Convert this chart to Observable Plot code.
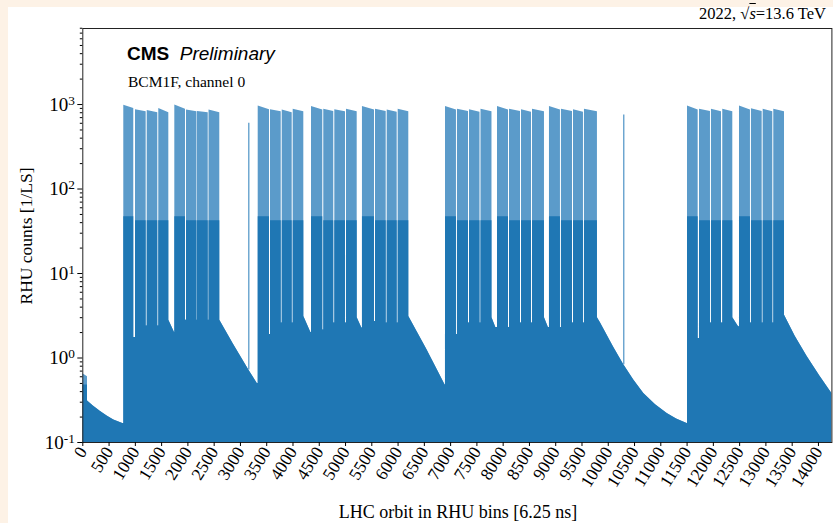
<!DOCTYPE html>
<html><head><meta charset="utf-8">
<script src="https://cdn.jsdelivr.net/npm/d3@7"></script>
<script src="https://cdn.jsdelivr.net/npm/@observablehq/plot@0.6"></script>
<style>
body{margin:0;background:#fdf2e6;}
#wrap{position:relative;width:833px;height:523px;overflow:hidden;background:#fdf2e6;}
#panel{position:absolute;left:8px;top:7px;right:0;bottom:0;background:#fff;}
#chart{position:absolute;left:0;top:0;}
.t{position:absolute;white-space:nowrap;color:#000;line-height:1;}
.serif{font-family:"Liberation Serif","DejaVu Serif",serif;}
.sans{font-family:"Liberation Sans",Arial,sans-serif;}
</style></head><body>
<div id="wrap">
<div id="panel"></div>
<div id="chart"></div>
<div class="t serif" style="right:7px;top:6px;font-size:16.5px;">2022, √<span style="text-decoration:overline;font-style:italic;">s</span>=13.6 TeV</div>
<div class="t sans" style="left:127px;top:44px;font-size:19px;"><b>CMS</b>&nbsp; <i>Preliminary</i></div>
<div class="t serif" style="left:128px;top:74px;font-size:15.5px;">BCM1F, channel 0</div>
<div class="t serif" style="left:27px;top:236px;font-size:17.5px;transform:translate(-50%,-50%) rotate(-90deg);">RHU counts [1/LS]</div>
<div class="t serif" style="left:458px;top:503px;font-size:18px;transform:translateX(-50%);">LHC orbit in RHU bins [6.25 ns]</div>
</div>
<script>
// ---- tick values / labels ----
const xTicks = [0,500,1000,1500,2000,2500,3000,3500,4000,4500,5000,5500,6000,6500,7000,7500,8000,8500,9000,9500,10000,10500,11000,11500,12000,12500,13000,13500,14000];
const yMajor = [0.1, 1, 10, 100, 1000];
const yMajorLabels = ["10^-1", "10^0", "10^1", "10^2", "10^3"];
const yMinor = [0.2,0.3,0.4,0.5,0.6,0.7,0.8,0.9,2,3,4,5,6,7,8,9,20,30,40,50,60,70,80,90,200,300,400,500,600,700,800,900,2000,3000,4000,5000,6000,7000,8000];

// ---- bunch trains (RHU bins) ----
const trainStart = [0, 780,1003,1226,1446, 1751,1973,2183,2402, 3338,3572,3795,4004, 4352,4586,4796,5018, 5322,5570,5793,6002, 6902,7130,7359,7578, 7892,8120,8349,8558, 8881,9109,9338,9547, 11508,11736,11964,12179, 12497,12725,12948,13150];
const trainEnd   = [90, 970,1206,1427,1637, 1954,2173,2387,2607, 3553,3776,3985,4206, 4567,4776,4999,5222, 5551,5774,5983,6204, 7111,7340,7559,7787, 8101,8330,8539,8786, 9090,9319,9528,9794, 11711,11945,12155,12370, 12706,12929,13131,13354];
const trainPeak  = [0.65, 980,870,850,900, 990,860,830,860, 960,870,860,880, 950,880,870,880, 950,880,860,880, 950,880,870,880, 950,880,870,880, 950,880,870,880, 960,880,880,880, 960,890,880,880];
const trainPeakEnd=[0.6, 900,820,800,800, 880,820,800,800, 870,820,800,820, 860,830,820,820, 860,830,810,820, 860,830,810,820, 860,830,810,820, 860,830,810,820, 860,830,820,820, 860,830,820,820];
const trainBase  = [0.48, 47,42,42,42, 47,42,42,42, 47,42,42,42, 47,42,42,42, 47,42,42,42, 47,42,42,42, 47,42,42,42, 47,42,42,42, 47,42,42,42, 47,42,42,42];
const trainTail  = [0.31, 1.75,2.4,2.4,2.8, 2.8,2.8,2.8,2.8, 1.9,2.6,2.6,3.1, 2.15,2.6,2.6,3.0, 2.7,2.6,2.6,3.1, 1.9,2.6,2.6,3.0, 2.3,2.6,2.6,3.0, 2.3,2.6,2.6,3.0, 1.7,2.6,2.6,3.0, 2.6,2.6,2.6,3.2];

// ---- afterglow between groups (bin, counts) ----
const glowBin   = [200, 337, 470, 590, 760, 1745, 2870, 3159, 3320, 4340, 5310, 6550, 6895, 7860, 8860, 9853, 10100, 10295, 10485, 10676, 10900, 11121, 11300, 11500, 12480, 13560, 13785, 14020, 14256];
const glowValue = [0.27, 0.232, 0.205, 0.185, 0.168, 2.0, 1.45, 0.72, 0.5, 2.0, 2.26, 1.25, 0.48, 2.3, 2.3, 2.6, 1.35, 0.83, 0.55, 0.38, 0.28, 0.22, 0.19, 0.168, 2.35, 1.8, 1.04, 0.62, 0.38];

// ---- isolated single bunches ----
const loneBin = [3159, 10295];
const loneTop = [600, 750];
const loneLow = [0.72, 0.83];

// build the envelope table from the arrays above
const env = [];
let level = null, gi = 0;
for (let i = 0; i < trainStart.length; i++) {
  const s = trainStart[i], e = trainEnd[i];
  while (gi < glowBin.length && glowBin[gi] < s) {
    env.push({x: glowBin[gi], base: glowValue[gi], peak: glowValue[gi]});
    level = glowValue[gi]; gi++;
  }
  if (level !== null) env.push({x: s, base: level, peak: level});
  env.push({x: s, base: trainBase[i], peak: trainPeak[i]});
  env.push({x: e, base: trainBase[i], peak: trainPeakEnd[i]});
  env.push({x: e, base: trainTail[i], peak: trainTail[i]});
  level = trainTail[i];
}
while (gi < glowBin.length) { env.push({x: glowBin[gi], base: glowValue[gi], peak: glowValue[gi]}); gi++; }

const lone = loneBin.map((b, i) => ({x: b, y1: loneLow[i], y2: loneTop[i]}));
const DARK = "#1f77b4", LIGHT = "#5b9bca";

const chart = Plot.plot({
  width: 833, height: 523,
  marginLeft: 82.3, marginRight: 1.6, marginTop: 28, marginBottom: 81,
  style: {background: "transparent", fontFamily: "'Liberation Serif', 'DejaVu Serif', serif", color: "#000"},
  x: {type: "linear", domain: [0, 14256]},
  y: {type: "log", domain: [0.1, 7943]},
  marks: [
    Plot.areaY(env, {x: "x", y1: 0.1, y2: "peak", fill: LIGHT, curve: "linear", clip: true}),
    Plot.areaY(env, {x: "x", y1: 0.1, y2: "base", fill: DARK, curve: "linear", clip: true}),
    Plot.ruleX(lone, {x: "x", y1: "y1", y2: "y2", stroke: LIGHT, strokeWidth: 1.3, clip: true}),
    Plot.frame({stroke: "#222", strokeWidth: 1}),
    Plot.axisX(xTicks, {tickSize: 4, tickRotate: -58, tickPadding: 2, fontSize: 17.5, label: null, tickFormat: d => String(d)}),
    Plot.axisY(yMinor, {tickSize: 2.5, tickFormat: () => "", label: null}),
    Plot.axisY(yMajor, {tickSize: 5, tickPadding: 3, fontSize: 19, label: null, tickFormat: d => yMajorLabels[yMajor.indexOf(d)]})
  ]
});
document.getElementById("chart").appendChild(chart);

// typeset the exponents of the y tick labels as superscripts
d3.select(chart).selectAll("text").each(function() {
  const t = this.textContent;
  if (t.includes("^")) {
    const [b, p] = t.split("^");
    const sel = d3.select(this);
    sel.text(null);
    sel.append("tspan").text(b);
    sel.append("tspan").attr("dy", "-0.45em").attr("font-size", "0.7em").text(p);
  }
});
</script>
</body></html>
